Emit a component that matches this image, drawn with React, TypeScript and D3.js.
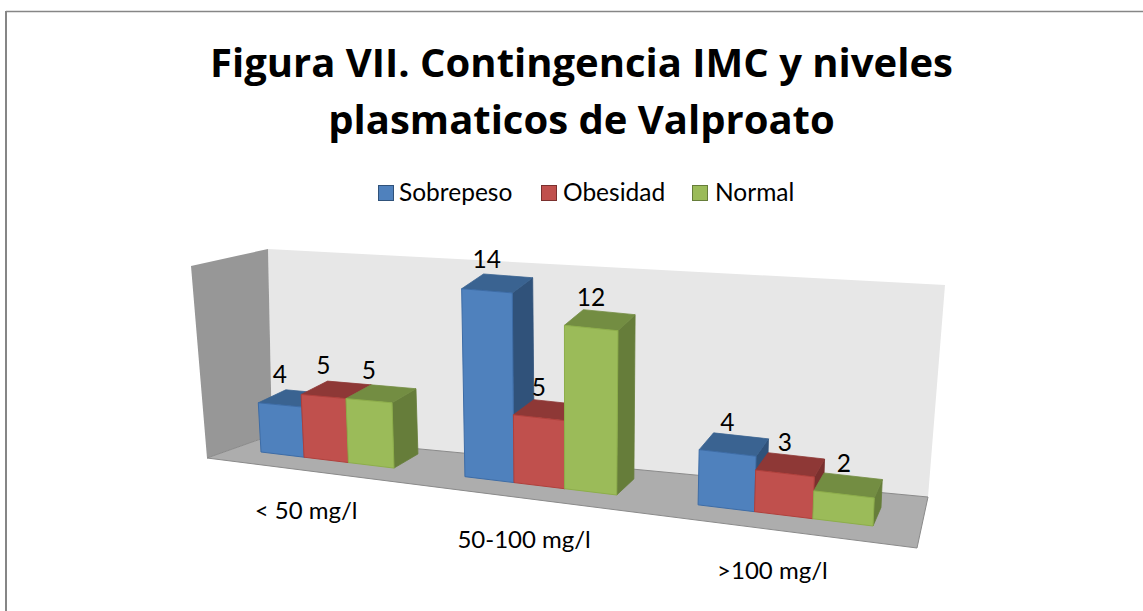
import React from "react";
import * as d3 from "d3";

const title = ["Figura VII. Contingencia IMC y niveles", "plasmaticos de Valproato"];
const categories = ["< 50 mg/l", "50-100 mg/l", ">100 mg/l"];
const seriesNames = ["Sobrepeso", "Obesidad", "Normal"];
const sobrepeso = [4, 14, 4];
const obesidad = [5, 5, 3];
const normal = [5, 12, 2];
const seriesValues = [sobrepeso, obesidad, normal];
const frontColors = ["#4F81BD", "#C0504D", "#9BBB59"];
const topColors = ["#3A6391", "#8E3836", "#738D42"];
const sideColors = ["#30527A", "#7A302E", "#667D3A"];
const edgeColors = ["#3D6CA6", "#B0403C", "#8DAE4A"];

type Pt = [number, number];
const fontFamily = "Lato, 'Open Sans', sans-serif";

// square -> quad projective map
function homography(a: Pt, b: Pt, c: Pt, d: Pt) {
  const dx1 = b[0] - c[0], dy1 = b[1] - c[1];
  const dx2 = d[0] - c[0], dy2 = d[1] - c[1];
  const sx = a[0] - b[0] + c[0] - d[0], sy = a[1] - b[1] + c[1] - d[1];
  const den = dx1 * dy2 - dy1 * dx2;
  const g = (sx * dy2 - sy * dx2) / den;
  const h = (dx1 * sy - dy1 * sx) / den;
  return (u: number, v: number): Pt => {
    const w = 1 + g * u + h * v;
    return [
      (a[0] + (b[0] - a[0] + g * b[0]) * u + (d[0] - a[0] + h * d[0]) * v) / w,
      (a[1] + (b[1] - a[1] + g * b[1]) * u + (d[1] - a[1] + h * d[1]) * v) / w,
    ];
  };
}

const footprint = homography([261, 452], [873, 526], [881, 507.5], [288.5, 439]);
const uBand = d3.scaleBand<string>().domain(categories).range([0, 1]).paddingInner(1 / 3).paddingOuter(0);
const barBand = d3.scaleBand<string>().domain(seriesNames).range([0, uBand.bandwidth()]);
const unitHeight = d3.scaleLinear().domain([0, 0.4, 1]).range([12.3, 13.5, 14]);
const lean = d3.scaleLinear().domain([0, 1]).range([-0.055, 0.045]);

function project(u: number, v: number, value: number): Pt {
  const [x, y] = footprint(u, v);
  const h = value * unitHeight(u);
  return [x + h * lean(u), y - h];
}
const poly = (pts: Pt[]) => pts.map((p) => p.join(",")).join(" ");

const floor: Pt[] = [[207, 458], [917, 548], [928, 497], [272, 435]];
const backWall: Pt[] = [[272, 435], [928, 497], [945, 285], [268, 249]];
const sideWall: Pt[] = [[207, 458], [272, 435], [268, 249], [191, 266]];

const labelDx = [-20, -15, -11];
const labelDy = [59, 62, 64];

export default function App() {
  const legendX = [378, 541, 692];
  const legendTextX = [399, 563, 715];
  return (
    <svg width={1143} height={611} style={{ position: "absolute", left: 0, top: 0, background: "#fff" }} fontFamily={fontFamily}>
      <line x1={6} y1={11.5} x2={1143} y2={11.5} stroke="#868686" strokeWidth={1.5} />
      <line x1={6} y1={11} x2={6} y2={611} stroke="#868686" strokeWidth={2} />
      {title.map((t, i) => (
        <text key={t} x={581.5} y={77 + i * 57} textAnchor="middle" fontSize={40} fontWeight={700} fill="#000" fontFamily="'Open Sans', sans-serif">{t}</text>
      ))}
      {seriesNames.map((s, i) => (
        <g key={s}>
          <rect x={legendX[i] + 0.5} y={185.5} width={15} height={15} fill={frontColors[i]} stroke={sideColors[i]} />
          <text x={legendTextX[i]} y={201} fontSize={24.5} fill="#000">{s}</text>
        </g>
      ))}
      <polygon points={poly(backWall)} fill="#E7E7E7" />
      <polygon points={poly(sideWall)} fill="#979797" />
      <polygon points={poly(floor)} fill="#ADADAD" stroke="#8A8A8A" strokeWidth={1} />
      {categories.map((c, ci) => {
        const c0 = uBand(c)!;
        const mid = footprint(c0 + uBand.bandwidth() / 2, 0);
        return (
          <g key={c}>
            {seriesNames.map((s, si) => {
              const value = seriesValues[si][ci];
              const u0 = c0 + barBand(s)!;
              const u1 = u0 + barBand.bandwidth();
              const fbl = project(u0, 0, 0), fbr = project(u1, 0, 0);
              const ftl = project(u0, 0, value), ftr = project(u1, 0, value);
              const bbr = project(u1, 1, 0);
              const btl = project(u0, 1, value), btr = project(u1, 1, value);
              return (
                <g key={s}>
                  <polygon points={poly([fbr, bbr, btr, ftr])} fill={sideColors[si]} stroke={sideColors[si]} strokeWidth={0.8} />
                  <polygon points={poly([ftl, ftr, btr, btl])} fill={topColors[si]} stroke={topColors[si]} strokeWidth={0.8} />
                  <polygon points={poly([fbl, fbr, ftr, ftl])} fill={frontColors[si]} stroke={edgeColors[si]} strokeWidth={1} />
                </g>
              );
            })}
            <text x={mid[0] + labelDx[ci]} y={mid[1] + labelDy[ci]} textAnchor="middle" fontSize={24} fill="#000">{c}</text>
          </g>
        );
      })}
      {categories.map((c, ci) =>
        seriesNames.map((s, si) => {
          const value = seriesValues[si][ci];
          const u = uBand(c)! + barBand(s)! + barBand.bandwidth() / 2;
          const p = project(u, 0, value);
          return (
            <text key={c + s} x={p[0]} y={p[1] - 22} textAnchor="middle" fontSize={24.5} fill="#000">{value}</text>
          );
        })
      )}
    </svg>
  );
}
